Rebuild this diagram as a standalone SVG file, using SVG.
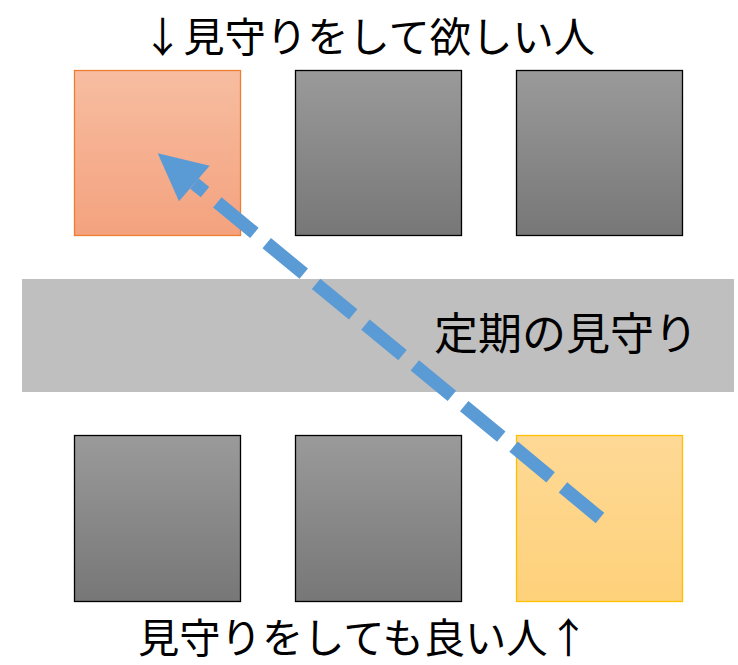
<svg xmlns="http://www.w3.org/2000/svg" width="738" height="665" viewBox="0 0 738 665">
<defs>
<linearGradient id="gGray" x1="0" y1="0" x2="0" y2="1"><stop offset="0" stop-color="#9A9A9A"/><stop offset="1" stop-color="#777777"/></linearGradient>
<linearGradient id="gOrange" x1="0" y1="0" x2="0" y2="1"><stop offset="0" stop-color="#F7BDA1"/><stop offset="1" stop-color="#F4A27E"/></linearGradient>
<linearGradient id="gYellow" x1="0" y1="0" x2="0" y2="1"><stop offset="0" stop-color="#FED996"/><stop offset="1" stop-color="#FED17A"/></linearGradient>
</defs>
<style>
.gray{fill:url(#gGray);stroke:#000;stroke-width:1.3}
.lbl{font-family:"Noto Sans CJK JP","Noto Sans",sans-serif;fill:#000}
</style>
<rect x="0" y="0" width="738" height="665" fill="#fff"/>
<g id="band"><rect x="22" y="279" width="712" height="113" fill="#BFBFBF"/>
<text class="lbl" x="434" y="350" font-size="44">定期の見守り</text></g>
<g id="top1"><rect x="74.5" y="70.5" width="166" height="165" fill="url(#gOrange)" stroke="#ED7D31" stroke-width="1.3"/></g>
<g id="top2"><rect class="gray" x="295.5" y="70.5" width="166" height="165"/></g>
<g id="top3"><rect class="gray" x="516.5" y="70.5" width="166" height="165"/></g>
<g id="bot1"><rect class="gray" x="74.5" y="435.5" width="166" height="166"/></g>
<g id="bot2"><rect class="gray" x="295.5" y="435.5" width="166" height="166"/></g>
<g id="bot3"><rect x="516.5" y="435.5" width="166" height="166" fill="url(#gYellow)" stroke="#FFC000" stroke-width="1.3"/></g>
<g id="connectors">
<path d="M600,518 L194.4,183.5" fill="none" stroke="#5B9BD5" stroke-width="13.3" stroke-dasharray="48 16"/>
<polygon points="157.7,153.3 209.7,165.7 179,201.3" fill="#5B9BD5"/>
</g>
<g id="labels">
<text class="lbl" x="142" y="52" font-size="41.3">↓見守りをして欲しい人</text>
<text class="lbl" x="138" y="653" font-size="41.3">見守りをしても良い人↑</text>
</g>
</svg>
